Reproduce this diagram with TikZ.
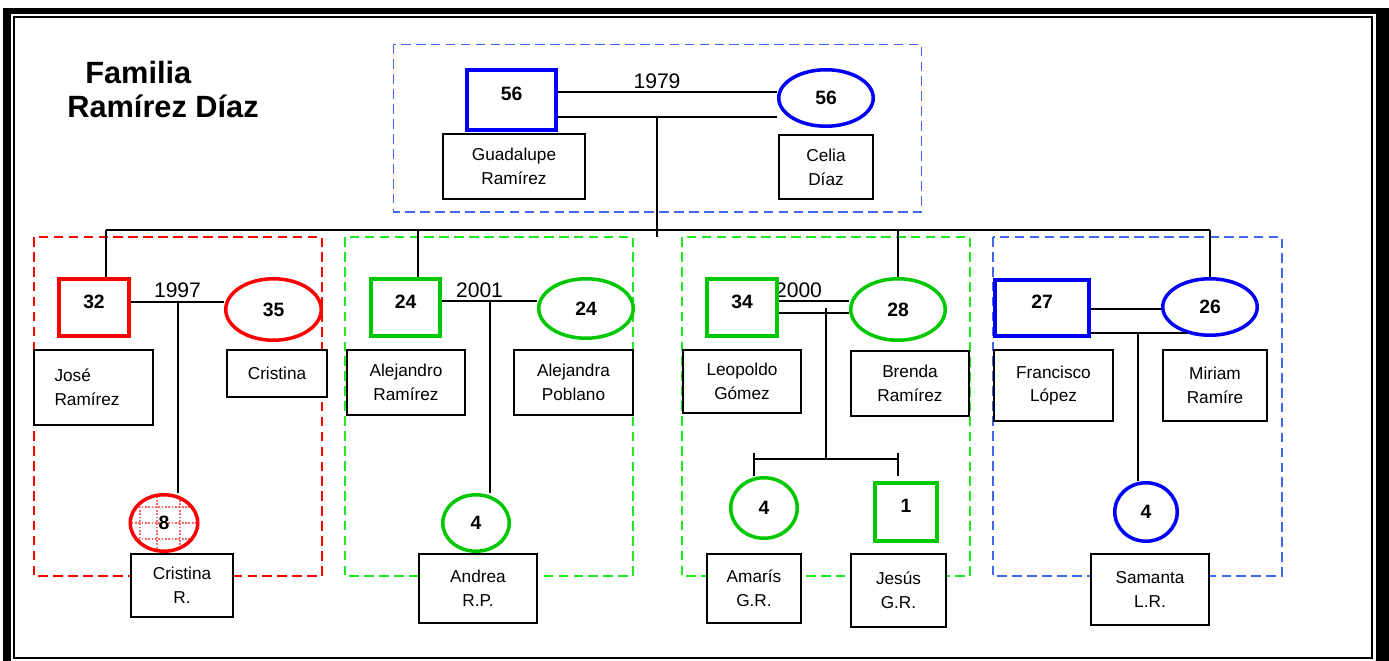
\documentclass[tikz,border=0pt]{standalone}
\usepackage{fontspec}
\setmainfont{Liberation Sans}
\usetikzlibrary{shapes.geometric}
\definecolor{pblue}{RGB}{0,0,250}
\definecolor{fblue}{RGB}{65,105,240}
\definecolor{pred}{RGB}{255,0,0}
\definecolor{pgreen}{RGB}{0,200,0}
\definecolor{fgreen}{RGB}{30,235,30}
\begin{document}
\begin{tikzpicture}[x=0.02cm, y=-0.02cm,
    male/.style={draw=#1, line width=2pt, fill=white, rectangle, inner sep=0pt,
      font=\fontsize{11}{13}\selectfont\bfseries, text depth=6.8pt},
    female/.style={draw=#1, line width=2pt, fill=white, ellipse, inner sep=0pt,
      font=\fontsize{11}{13}\selectfont\bfseries},
    namebox/.style={draw, line width=1.1pt, fill=white, align=center, inner sep=0pt,
      font=\fontsize{9.8}{13.6}\selectfont},
    famframe/.style={draw=#1, line width=0.9pt, dash pattern=on 5.5pt off 3pt},
    link/.style={line width=1pt},
    year/.style={font=\fontsize{12}{14}\selectfont, inner sep=0pt},
    gridline/.style={red!60, line width=1.1pt, dash pattern=on 1pt off 0.9pt}]
  \useasboundingbox (0,0) rectangle (1389,661);
  % page border
  \fill (3,8) rectangle (1389,14);
  \fill (3,8) rectangle (11,661);
  \fill (1376,8) rectangle (1389,661);
  \draw[line width=1.1pt] (14,17) rectangle (1372,658);
  % title
  \node[anchor=base west, inner sep=0pt, font=\fontsize{17.5}{20}\selectfont\bfseries] (title1) at (85,84) {Familia};
  \node[anchor=base west, inner sep=0pt, font=\fontsize{17.5}{20}\selectfont\bfseries] (title2) at (67,118) {Ramírez Díaz};
  % family frames
  \draw[famframe=fblue] (393.5,44.5) rectangle (921.5,212);
  \draw[famframe=pred] (34,237) rectangle (322,576);
  \draw[famframe=fgreen] (345,237) rectangle (633,576);
  \draw[famframe=fgreen] (682,237) rectangle (970,576);
  \draw[famframe=fblue] (993,237) rectangle (1282,576);
  % years
  \node[year] (y79) at (657,81) {1979};
  \node[year] (y97) at (177.5,290) {1997};
  \node[year] (y01) at (479.5,290) {2001};
  \node[year] (y00) at (798.5,290) {2000};
  % dotted grid of Cristina R.
  \begin{scope}
    \clip (164,523) ellipse [x radius=0.66cm, y radius=0.55cm];
    \foreach \gx in {140,157,180}
      \draw[gridline] (\gx,490) -- (\gx,556);
    \foreach \gy in {507,523,539}
      \draw[gridline] (125,\gy) -- (205,\gy);
  \end{scope}
  % parents
  \node[male=pblue, minimum width=1.79cm, minimum height=1.21cm] (gua) at (511.5,100) {56};
  \node[female=pblue, minimum width=1.89cm, minimum height=1.13cm] (celia) at (826,98) {56};
  \node[namebox, minimum width=2.84cm, minimum height=1.30cm] (guaN) at (514,166.5) {Guadalupe\\Ramírez};
  \node[namebox, minimum width=1.88cm, minimum height=1.28cm] (celiaN) at (826,167) {Celia\\Díaz};
  % family 1
  \node[male=pred, minimum width=1.41cm, minimum height=1.15cm] (jose) at (94,307.5) {32};
  \node[female=pred, minimum width=1.91cm, minimum height=1.23cm] (cris) at (273.5,309.5) {35};
  \node[female=pred, fill=none, minimum width=1.35cm, minimum height=1.13cm] (crisR) at (164,523) {8};
  \node[namebox, align=left, text width=1.56cm, inner xsep=0.41cm, minimum height=1.50cm] (joseN) at (93.5,387.5) {José\\Ramírez};
  \node[namebox, minimum width=2.00cm, minimum height=0.94cm] (crisN) at (277,373.5) {Cristina};
  \node[namebox, minimum width=2.04cm, minimum height=1.26cm] (crisRN) at (182,585.5) {Cristina\\R.};
  % family 2
  \node[male=pgreen, minimum width=1.39cm, minimum height=1.15cm] (ale) at (405.5,307.5) {24};
  \node[female=pgreen, minimum width=1.89cm, minimum height=1.19cm] (alea) at (586,308.5) {24};
  \node[female=pgreen, minimum width=1.33cm, minimum height=1.13cm] (andrea) at (476,523) {4};
  \node[namebox, minimum width=2.36cm, minimum height=1.30cm] (aleN) at (406,382.5) {Alejandro\\Ramírez};
  \node[namebox, minimum width=2.38cm, minimum height=1.30cm] (aleaN) at (573.5,382.5) {Alejandra\\Poblano};
  \node[namebox, minimum width=2.36cm, minimum height=1.38cm] (andreaN) at (478,588.5) {Andrea\\R.P.};
  % family 3
  \node[male=pgreen, minimum width=1.41cm, minimum height=1.15cm] (leo) at (742,307.5) {34};
  \node[female=pgreen, minimum width=1.89cm, minimum height=1.23cm] (brenda) at (898,309.5) {28};
  \node[female=pgreen, minimum width=1.33cm, minimum height=1.21cm] (amaris) at (764,508) {4};
  \node[male=pgreen, minimum width=1.25cm, minimum height=1.17cm] (jesus) at (906,512) {1};
  \node[namebox, minimum width=2.36cm, minimum height=1.26cm] (leoN) at (742,381.5) {Leopoldo\\Gómez};
  \node[namebox, minimum width=2.36cm, minimum height=1.30cm] (brendaN) at (910,383.5) {Brenda\\Ramírez};
  \node[namebox, minimum width=1.88cm, minimum height=1.38cm] (amarisN) at (754,588.5) {Amarís\\G.R.};
  \node[namebox, minimum width=1.90cm, minimum height=1.46cm] (jesusN) at (898.5,590.5) {Jesús\\G.R.};
  % family 4
  \node[male=pblue, minimum width=1.89cm, minimum height=1.13cm] (fran) at (1042,308) {27};
  \node[female=pblue, minimum width=1.89cm, minimum height=1.13cm] (miriam) at (1210,307) {26};
  \node[female=pblue, minimum width=1.25cm, minimum height=1.17cm] (sam) at (1146,512) {4};
  \node[namebox, minimum width=2.38cm, minimum height=1.42cm] (franN) at (1053.5,385.5) {Francisco\\López};
  \node[namebox, minimum width=2.08cm, minimum height=1.42cm] (miriamN) at (1215,385.5) {Miriam\\Ramíre};
  \node[namebox, minimum width=2.36cm, minimum height=1.42cm] (samN) at (1150,589.5) {Samanta\\L.R.};
  % links
  \coordinate (w79a) at (657,92);
  \coordinate (w79b) at (657,117);
  \coordinate (hub) at (657,237);
  \coordinate (dJ) at (106,230);
  \coordinate (dA) at (418,230);
  \coordinate (dB) at (898,230);
  \coordinate (dM) at (1210,230);
  \draw[link] (gua.east |- w79a) -- (w79a -| celia.west);
  \draw[link] (gua.east |- w79b) -- (w79b -| celia.west);
  \draw[link] (w79b) -- (hub);
  \draw[link] (dJ) -- (dM);
  \draw[link] (dJ) -- (dJ |- jose.north);
  \draw[link] (dA) -- (dA |- ale.north);
  \draw[link] (dB) -- (brenda.north);
  \draw[link] (dM) -- (miriam.north);
  \coordinate (w97) at (178,302);
  \draw[link] (jose.east |- w97) -- (w97 -| cris.west);
  \draw[link] (w97) -- (w97 |- crisR.north);
  \coordinate (w01) at (490,301);
  \draw[link] (ale.east |- w01) -- (w01 -| alea.west);
  \draw[link] (w01) -- (w01 |- andrea.north);
  \coordinate (w00a) at (826,301);
  \coordinate (w00b) at (826,313);
  \coordinate (w00c) at (826,308);
  \coordinate (kids) at (826,459);
  \coordinate (kL) at (754,459);
  \coordinate (kR) at (898,459);
  \draw[link] (leo.east |- w00a) -- (w00a -| brenda.west);
  \draw[link] (leo.east |- w00b) -- (w00b -| brenda.west);
  \draw[link] (w00c) -- (kids);
  \draw[link] (kL) -- (kR);
  \draw[link] (kL) ++(0,-6) -- (kL |- amaris.north);
  \draw[link] (kR) ++(0,-6) -- (kR |- amaris.north);
  \coordinate (w4a) at (1126,309);
  \coordinate (w4b) at (1138,333);
  \draw[link] (fran.east |- w4a) -- (w4a -| miriam.west);
  \draw[link] (fran.east |- w4b) -- (w4b -| miriam.229);
  \draw[link] (w4b) -- (w4b |- sam.north);
\end{tikzpicture}
\end{document}
